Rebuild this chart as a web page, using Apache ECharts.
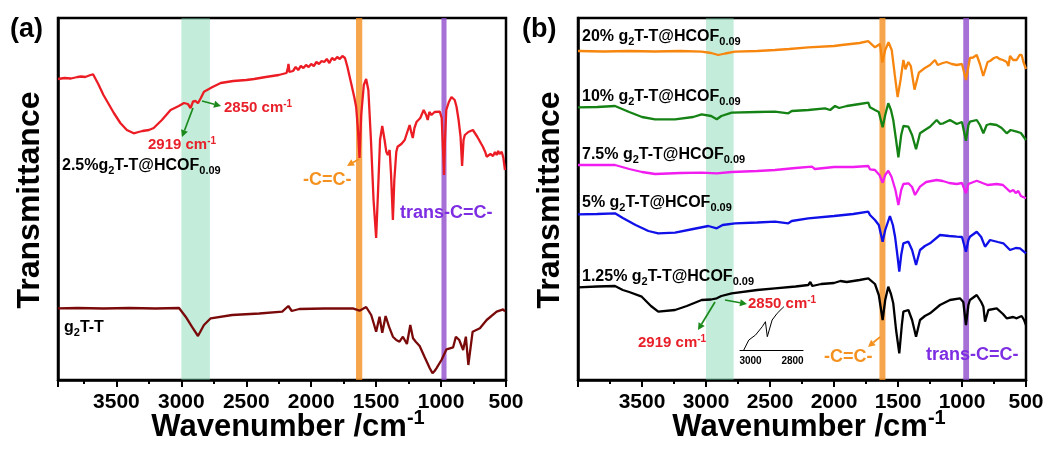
<!DOCTYPE html>
<html><head><meta charset="utf-8">
<script src="https://cdn.jsdelivr.net/npm/echarts@6/dist/echarts.min.js"></script>
<style>html,body{margin:0;padding:0;background:#fff}#c{width:1051px;height:452px}</style>
</head><body><div id="c"></div>
<script>
// ---------- DATA (wavenumber cm-1, transmittance a.u.) ----------
const xTickLabels = [500, 1000, 1500, 2000, 2500, 3000, 3500];
const insetTickLabels = [2800, 3000];

// panel (a)
const a_2_5pct = [[3950,301],[3900,302],[3850,301.5],[3800,303],[3770,303.5],[3740,303],[3700,305],[3680,305.7],[3640,296],[3600,285],[3560,276],[3520,267],[3470,257],[3420,250],[3367,246.7],[3330,248],[3300,249],[3250,250],[3213,252],[3150,260],[3083,270],[3020,274],[2980,277],[2950,276],[2929,272],[2910,278.5],[2890,279],[2872,276.7],[2850,282],[2826,288.3],[2760,293],[2697,297],[2600,299],[2500,300],[2440,301],[2350,303],[2250,305],[2190,307],[2180,312],[2175,316],[2168,308],[2140,309],[2120,313],[2100,310],[2080,314],[2060,312],[2040,315],[2020,313],[2000,316],[1980,314],[1960,318],[1940,316],[1920,319],[1900,318],[1880,321],[1860,317],[1840,322],[1820,320],[1800,323],[1780,321],[1760,324],[1740,322],[1721,313],[1693,297],[1667,282],[1654,273],[1640,250],[1628,222],[1615,265],[1595,295],[1577,301],[1560,290],[1540,240],[1520,180],[1500,142],[1485,190],[1470,240],[1453,254],[1435,240],[1422,228.3],[1410,225],[1396,230],[1385,205],[1371,160],[1360,200],[1345,228],[1335,233.3],[1306,236],[1280,240],[1260,248],[1242,255],[1230,248],[1218,242],[1205,252],[1188,258.3],[1160,262],[1134,270],[1115,265],[1103,260],[1090,268],[1074,265],[1050,268],[1036,270],[1010,268.3],[995,262],[985,230],[977,205],[970,240],[960,270],[940,278],[920,283],[907,285],[895,280],[881,273.3],[865,260],[850,243.3],[838,214],[827,240],[817,245],[790,248],[755,250],[720,243],[690,236],[678,233.3],[660,228],[649,223.3],[620,226],[600,224],[585,228],[572,225],[560,229],[550,226],[533,228.3],[520,222],[508,210]];
const a_g2TT = [[3950,71.7],[3800,72],[3600,71.5],[3400,72],[3200,71.5],[3018,72],[2967,63.3],[2919,53.3],[2872,44],[2826,55],[2774,61.7],[2609,65],[2400,66.5],[2223,68.3],[2176,74],[2150,69],[2092,71],[1900,71.5],[1680,71.7],[1628,69.3],[1577,73],[1538,65],[1515,55],[1500,48.3],[1474,63.3],[1453,47.3],[1427,64],[1401,53.3],[1371,43.3],[1345,40],[1320,38.3],[1294,43.3],[1263,36],[1237,55],[1216,41.7],[1195,38.3],[1165,34],[1126,22.7],[1087,11.7],[1066,6.7],[1050,9],[1036,11.7],[997,20],[958,30.7],[907,32.7],[886,43.3],[860,40],[830,30],[809,43.3],[790,15],[757,48.3],[701,51.7],[649,60],[572,68.3],[521,70.7],[508,68.3]];

// panel (b)
const b_20pct = [[4000,329],[3800,328.5],[3600,329],[3400,328.5],[3200,329],[3034,328.3],[2960,327],[2904,325],[2850,326.5],[2773,328.3],[2600,329],[2461,330],[2350,331],[2201,332.7],[2000,334],[1940,335],[1800,337],[1733,338.8],[1680,332.7],[1641,336],[1622,317.5],[1600,330],[1574,337.7],[1549,330],[1525,305],[1503,283],[1480,300],[1458,320],[1442,310.7],[1419,318],[1400,314],[1371,290.4],[1359,292],[1337,307.3],[1290,312],[1250,315],[1211,320],[1190,315],[1150,317],[1120,318],[1080,316],[1041,315],[1000,316],[969,300],[938,322],[914,322.5],[885,325],[860,316],[846,318],[834,304],[820,305],[800,318],[781,319],[750,322],[729,323],[703,320.8],[680,320],[651,318],[637,314],[625,324],[600,320],[573,320],[550,325],[534,325],[520,318],[500,311]];
const b_10pct = [[4000,272.7],[3850,273],[3711,274],[3600,268],[3500,263],[3398,260.7],[3242,260.7],[3100,263],[3034,265.7],[2960,264],[2916,260.7],[2880,264],[2799,267.3],[2600,268],[2461,268.3],[2357,266.7],[2330,269],[2200,270],[2070,271.7],[2030,270],[1992,274],[1960,272],[1900,274],[1800,276],[1732,277.3],[1719,272.7],[1680,270],[1650,268],[1620,252.7],[1600,265],[1576,276.7],[1555,270],[1537,260],[1515,240],[1497,222.7],[1475,245],[1458,254],[1419,253.3],[1390,245],[1359,230.7],[1328,246.7],[1290,250],[1250,253.3],[1198,260],[1170,256],[1146,256.7],[1094,260],[1041,256],[1000,258],[969,239.3],[950,255],[938,258.3],[885,260],[860,255],[833,246.7],[807,255],[780,256],[729,255],[690,252],[651,246.7],[620,250],[573,248.3],[540,247],[500,240]];
const b_7_5pct = [[4000,215],[3850,215],[3711,215],[3600,211],[3500,208],[3398,206],[3200,207],[3034,207.3],[2916,206.7],[2800,208],[2600,209],[2461,210],[2300,212],[2172,213.3],[2150,211],[2000,213],[1850,213],[1732,214],[1719,210.7],[1680,210],[1645,205],[1620,197.3],[1600,205],[1576,209.3],[1550,203],[1520,190],[1497,175],[1475,190],[1458,196],[1419,196.7],[1390,193],[1367,185],[1328,193.3],[1280,198],[1198,200],[1150,199],[1100,197],[1041,196],[1000,197],[969,186.7],[950,196],[885,199.3],[840,197],[800,195],[729,196],[680,195],[625,188.3],[600,190],[580,187],[560,189],[540,184],[500,181.7]];
const b_5pct = [[4000,165.7],[3850,166],[3711,166.7],[3650,162],[3550,155],[3450,149],[3373,146.7],[3242,147.3],[3100,151],[2982,154],[2916,151.7],[2870,155],[2773,156.7],[2600,157.5],[2461,158.3],[2357,156.7],[2330,159],[2201,161.7],[2000,164],[1850,166],[1732,168.3],[1719,165],[1680,160],[1650,155],[1620,138.3],[1600,150],[1563,164],[1540,155],[1523,143.3],[1505,125],[1490,108.3],[1475,125],[1458,136.7],[1419,138.3],[1390,130],[1359,115],[1328,130],[1290,134],[1250,136.7],[1172,145],[1100,144],[1041,143.3],[1000,143],[969,128.3],[950,140],[938,143.3],[885,148.3],[850,143],[820,133.3],[781,140],[720,138],[677,136.7],[625,130],[580,132],[547,131.7],[500,126.7]];
const b_1_25pct = [[4000,92.7],[3850,93.5],[3711,94],[3650,90],[3600,88],[3502,83.3],[3430,74],[3373,68.3],[3242,70],[3150,74],[3034,80],[2960,80.5],[2916,81.7],[2880,84],[2799,86.7],[2600,90],[2461,91.7],[2300,93.5],[2201,95],[2185,98],[2170,94],[2100,96],[2000,97],[1950,99],[1900,98],[1850,99],[1800,100],[1732,101.7],[1719,100.7],[1680,96],[1650,85],[1620,60],[1600,80],[1576,93.3],[1555,86],[1537,76.7],[1515,50],[1490,26.7],[1470,55],[1458,68.3],[1419,70],[1390,60],[1359,43.3],[1328,60],[1290,64],[1250,66.7],[1172,75],[1094,80],[1016,81.7],[990,78],[969,55],[950,75],[938,80],[885,85],[850,78],[833,73.3],[820,58.3],[794,70],[729,71.7],[680,66],[651,61.7],[600,63],[573,61.7],[534,64],[515,60],[500,55]];
// inset (b): zoom of 1.25% around C-H stretch
const b_inset = [[3032,0],[3008,10],[2976,15],[2944,23.3],[2929,28.3],[2920,13.3],[2897,30],[2873,36.7],[2865,35],[2849,41.7],[2841,43.3]];

// highlighted bands [from, to] in cm-1
const bandCH_a = [3000, 2780], bandCC_a = [1655, 1607], bandTrans_a = [997, 958];
const bandCH_b = [3000, 2784], bandCC_b = [1645, 1598], bandTrans_b = [990, 945];

// ---------- STYLE ----------
const FONT = 'Liberation Sans, Arial, sans-serif';
const GREEN_BAND = 'rgba(112,212,167,0.42)';
const ORANGE_BAND = 'rgba(245,142,33,0.8)';
const PURPLE_BAND = 'rgba(144,76,204,0.8)';
const RED_TXT = '#e8202a', ORANGE_TXT = '#f5911e', PURPLE_TXT = '#7e2ee2', ARROW_GREEN = '#1b8a1b';

function xAxisMain(gi, max) {
  return {
    type: 'value', gridIndex: gi, min: 500, max: max, interval: 500, inverse: true,
    axisLine: { show: true, onZero: false, lineStyle: { color: '#000', width: 2.5 } },
    axisTick: { show: true, inside: false, length: 7, lineStyle: { color: '#000', width: 2 } },
    minorTick: { show: true, splitNumber: 2, length: 4, lineStyle: { color: '#000', width: 2 } },
    axisLabel: { show: true, margin: 12, fontSize: 21, fontWeight: 'bold', color: '#000', fontFamily: FONT,
      showMaxLabel: false, formatter: v => xTickLabels.includes(v) ? String(v) : '' },
    splitLine: { show: false }, minorSplitLine: { show: false }
  };
}
function yAxisMain(gi) {
  return { type: 'value', gridIndex: gi, min: 0, max: 362,
    axisLine: { show: true, lineStyle: { color: '#000', width: 2.5 } },
    axisTick: { show: false }, axisLabel: { show: false }, splitLine: { show: false } };
}
function line(data, color, xi) {
  return { type: 'line', data: data, xAxisIndex: xi, yAxisIndex: xi, showSymbol: false, symbol: 'none',
    lineStyle: { color: color, width: 2.3 }, z: 2, silent: true };
}
function bands(xi, ch, cc, tr) {
  return { type: 'line', data: [], xAxisIndex: xi, yAxisIndex: xi, z: 10, silent: true,
    markArea: { silent: true, data: [
      [{ xAxis: ch[0], itemStyle: { color: GREEN_BAND } }, { xAxis: ch[1] }],
      [{ xAxis: cc[0], itemStyle: { color: ORANGE_BAND } }, { xAxis: cc[1] }],
      [{ xAxis: tr[0], itemStyle: { color: PURPLE_BAND } }, { xAxis: tr[1] }]
    ] } };
}
function richStyle(size, color) {
  return {
    sub: { fontSize: Math.round(size * 0.66), fontWeight: 'bold', fontFamily: FONT, fill: color, padding: [Math.round(size * 0.55), 0, 0, 0] },
    sup: { fontSize: Math.round(size * 0.66), fontWeight: 'bold', fontFamily: FONT, fill: color, padding: [0, 0, Math.round(size * 0.55), 0] }
  };
}
function txt(x, y, text, color, size, align) {
  return { type: 'text', x: x, y: y, z: 100, silent: true,
    style: { text: text, fill: color, fontSize: size, fontWeight: 'bold', fontFamily: FONT,
      textAlign: align || 'left', textVerticalAlign: 'middle', rich: richStyle(size, color) } };
}
function arrow(x1, y1, x2, y2, color) {
  const ang = Math.atan2(y2 - y1, x2 - x1), L = 7, W = 3.6;
  const bx = x2 - L * Math.cos(ang), by = y2 - L * Math.sin(ang);
  const px = -Math.sin(ang), py = Math.cos(ang);
  return [
    { type: 'line', z: 100, silent: true, shape: { x1: x1, y1: y1, x2: bx, y2: by }, style: { stroke: color, lineWidth: 1.7 } },
    { type: 'polygon', z: 100, silent: true, shape: { points: [[x2, y2], [bx + px * W, by + py * W], [bx - px * W, by - py * W]] }, style: { fill: color } }
  ];
}

const chart = echarts.init(document.getElementById('c'), null, { renderer: 'canvas' });
const graphics = [
  txt(10, 30, '(a)', '#000', 27), txt(522, 30, '(b)', '#000', 27),
  { type: 'text', x: 30, y: 200, rotation: Math.PI / 2, z: 100, silent: true,
    style: { text: 'Transmittance', fill: '#000', fontSize: 32, fontWeight: 'bold', fontFamily: FONT, textAlign: 'center', textVerticalAlign: 'middle' } },
  { type: 'text', x: 550, y: 200, rotation: Math.PI / 2, z: 100, silent: true,
    style: { text: 'Transmittance', fill: '#000', fontSize: 32, fontWeight: 'bold', fontFamily: FONT, textAlign: 'center', textVerticalAlign: 'middle' } },
  txt(288, 427, 'Wavenumber /cm{sup|-1}', '#000', 31, 'center'),
  txt(809, 427, 'Wavenumber /cm{sup|-1}', '#000', 31, 'center'),
  // panel a labels
  txt(62, 166, '2.5%g{sub|2}T-T@HCOF{sub|0.09}', '#000', 16),
  txt(64, 328, 'g{sub|2}T-T', '#000', 16),
  txt(182, 145, '2919 cm{sup|-1}', RED_TXT, 15, 'center'),
  txt(224, 108, '2850 cm{sup|-1}', RED_TXT, 15),
  txt(303, 180, '-C=C-', ORANGE_TXT, 18),
  txt(400, 213, 'trans-C=C-', PURPLE_TXT, 18),
  // panel b labels
  txt(582, 37, '20% g{sub|2}T-T@HCOF{sub|0.09}', '#000', 16),
  txt(582, 97, '10% g{sub|2}T-T@HCOF{sub|0.09}', '#000', 16),
  txt(582, 155, '7.5% g{sub|2}T-T@HCOF{sub|0.09}', '#000', 16),
  txt(582, 203, '5% g{sub|2}T-T@HCOF{sub|0.09}', '#000', 16),
  txt(582, 277, '1.25% g{sub|2}T-T@HCOF{sub|0.09}', '#000', 16),
  txt(638, 343, '2919 cm{sup|-1}', RED_TXT, 15),
  txt(748, 304, '2850 cm{sup|-1}', RED_TXT, 15),
  txt(824, 357, '-C=C-', ORANGE_TXT, 18),
  txt(926, 355, 'trans-C=C-', PURPLE_TXT, 18)
].concat(
  arrow(193, 108, 182, 137, ARROW_GREEN),
  arrow(202, 101, 221, 106, ARROW_GREEN),
  arrow(359, 159, 347, 166, ORANGE_TXT),
  arrow(715, 302, 698, 330, ARROW_GREEN),
  arrow(725, 300, 747, 304, ARROW_GREEN),
  arrow(880, 337, 868, 347, ORANGE_TXT)
);

chart.setOption({
  animation: false,
  backgroundColor: '#fff',
  grid: [
    { left: 58, top: 18, width: 448, height: 362, show: true, borderColor: '#000', borderWidth: 2.5, backgroundColor: 'transparent' },
    { left: 578, top: 18, width: 448, height: 362, show: true, borderColor: '#000', borderWidth: 2.5, backgroundColor: 'transparent' },
    { left: 740, top: 300, width: 63, height: 50, show: false }
  ],
  xAxis: [
    xAxisMain(0, 3950), xAxisMain(1, 4000),
    { type: 'value', gridIndex: 2, min: 2750, max: 3050, interval: 50, inverse: true,
      axisLine: { show: true, onZero: false, lineStyle: { color: '#000', width: 1.2 } },
      axisTick: { show: false }, splitLine: { show: false },
      axisLabel: { margin: 6, fontSize: 10, fontWeight: 'bold', color: '#000', fontFamily: FONT,
        showMaxLabel: false, showMinLabel: false,
        formatter: v => insetTickLabels.includes(v) ? String(v) : '' } }
  ],
  yAxis: [ yAxisMain(0), yAxisMain(1),
    { type: 'value', gridIndex: 2, min: 0, max: 50, show: false } ],
  series: [
    line(a_2_5pct, '#ec1c24', 0),
    line(a_g2TT, '#7a0a0a', 0),
    bands(0, bandCH_a, bandCC_a, bandTrans_a),
    line(b_20pct, '#f7860f', 1),
    line(b_10pct, '#148214', 1),
    line(b_7_5pct, '#f01cf0', 1),
    line(b_5pct, '#1010e8', 1),
    line(b_1_25pct, '#000000', 1),
    bands(1, bandCH_b, bandCC_b, bandTrans_b),
    { type: 'line', data: b_inset, xAxisIndex: 2, yAxisIndex: 2, showSymbol: false, symbol: 'none',
      lineStyle: { color: '#000', width: 1 }, z: 20, silent: true }
  ],
  graphic: graphics
});
</script>
</body></html>
